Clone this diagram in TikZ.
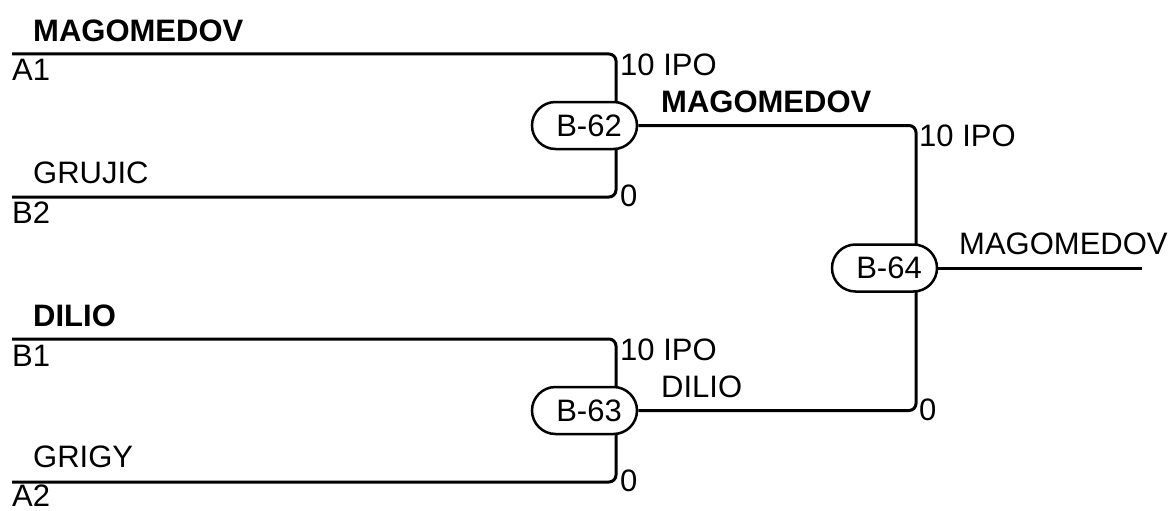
\documentclass[tikz,border=0pt]{standalone}
\usepackage{fontspec}
\setmainfont{Liberation Sans}
\usetikzlibrary{shapes.misc,backgrounds}
\tikzset{
  match/.style={rounded rectangle, draw, line width=2.5pt, fill=white,
    minimum width=105pt, minimum height=47pt, inner sep=0pt,
    font=\fontsize{31}{36}\selectfont},
  lbl/.style={anchor=base west, inner sep=0pt, font=\fontsize{31}{36}\selectfont},
  blbl/.style={lbl, font=\fontsize{31}{36}\selectfont\bfseries},
  wire/.style={line width=3pt, rounded corners=7pt},
}
\begin{document}
\begin{tikzpicture}[x=1pt,y=-1pt]
\useasboundingbox (0,0) rectangle (1173,511);
% matches
\node[match] (b62) at (584.5,125.5) {\hspace*{9pt}B-62};
\node[match] (b63) at (584.5,410.5) {\hspace*{9pt}B-63};
\node[match] (b64) at (884.5,268) {\hspace*{9pt}B-64};
% free ends and junction columns
\coordinate (a1) at (12,54);
\coordinate (b2) at (12,197);
\coordinate (b1) at (12,339);
\coordinate (a2) at (12,482);
\coordinate (j62) at (616,0);
\coordinate (j63) at (616,0);
\coordinate (j64) at (916,0);
\coordinate (win) at (1142,268);
\begin{scope}[on background layer]
\draw[wire] (a1) -| (b62.center -| j62);
\draw[wire] (b2) -| (b62.center -| j62);
\draw[wire] (b1) -| (b63.center -| j63);
\draw[wire] (a2) -| (b63.center -| j63);
\draw[wire] (b62.east) -| (b64.center -| j64);
\draw[wire] (b63.east) -| (b64.center -| j64);
\draw[wire] (b64.east) -- (win);
\end{scope}
% labels
\node[blbl] (t1) at (33,42) {MAGOMEDOV};
\node[lbl] (t2) at (12,81) {A1};
\node[lbl] (t3) at (33,183) {GRUJIC};
\node[lbl] (t4) at (12,223) {B2};
\node[blbl] (t5) at (33,326) {DILIO};
\node[lbl] (t6) at (12,366) {B1};
\node[lbl] (t7) at (33,467) {GRIGY};
\node[lbl] (t8) at (12,506) {A2};
\node[lbl] (s1) at (620,75) {10 IPO};
\node[lbl] (s2) at (620,206) {0};
\node[lbl] (s3) at (620,360) {10 IPO};
\node[lbl] (s4) at (620,491) {0};
\node[blbl] (w1) at (661,112) {MAGOMEDOV};
\node[lbl] (w2) at (661,397) {DILIO};
\node[lbl] (s5) at (919,146) {10 IPO};
\node[lbl] (s6) at (919,420) {0};
\node[lbl] (w3) at (959,254) {MAGOMEDOV};
\end{tikzpicture}
\end{document}
